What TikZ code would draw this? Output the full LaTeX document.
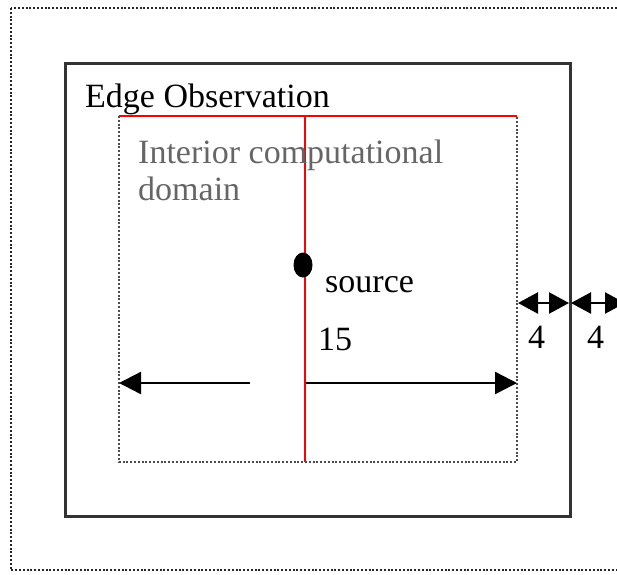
\documentclass[tikz,border=0pt]{standalone}
\usepackage{fontspec}
\setmainfont{Liberation Serif}
\usetikzlibrary{arrows.meta,shapes.geometric}
\begin{document}
\begin{tikzpicture}[x=1pt,y=-1pt,
  lbl/.style={anchor=base west, inner sep=0pt, font=\fontsize{34}{38}\selectfont},
  dotline/.style={line width=2.6pt, dash pattern=on 2pt off 1.8pt},
  frame/.style={line width=3pt, draw=black!80},
  redline/.style={line width=2.2pt, draw=red},
  dimarrow/.style={line width=2.4pt, -{Triangle[length=22pt,width=22pt]}},
  dimboth/.style={line width=2.4pt, {Triangle[length=20pt,width=21pt]}-{Triangle[length=20pt,width=21pt]}}
]
\useasboundingbox (0,0) rectangle (617,574);
\clip (0,0) rectangle (617,574);

% outer dotted frame (runs past the right edge)
\draw[dotline, draw=black!85] (11,8) rectangle (660,570);

% edge observation frame
\draw[frame] (65,63) rectangle (570,516);

% interior computational domain
\draw[dotline, draw=black!70] (119,116) rectangle (517,462);
\draw[redline] (119,116) -- (517,116);
\coordinate (vtop) at (305,116);
\coordinate (vbot) at (305,462);
\draw[redline] (vtop) -- (vbot);

% source point
\node[ellipse, fill=black, minimum width=19pt, minimum height=25pt, inner sep=0pt] (src) at (303,265) {};

% labels
\node[lbl] (title) at (85,107) {Edge Observation};
\node[lbl, text=black!60] (interior) at (138,163) {Interior computational};
\node[lbl, text=black!60] (interiorb) at (138,200) {domain};
\node[lbl] (srclbl) at (325,292) {source};
\node[lbl] (width) at (318,350) {15};
\node[lbl] (bandA) at (528,348) {4};
\node[lbl] (bandB) at (587,348) {4};

% half-width arrows
\coordinate (la0) at (250,383);
\coordinate (la1) at (119,383);
\coordinate (ra0) at (306,383);
\coordinate (ra1) at (517,383);
\draw[dimarrow] (la0) -- (la1);
\draw[dimarrow] (ra0) -- (ra1);

% band width arrows
\coordinate (b0) at (518,303);
\coordinate (b1) at (569,303);
\coordinate (b2) at (571,303);
\coordinate (b3) at (625,303);
\draw[dimboth] (b0) -- (b1);
\draw[dimboth] (b2) -- (b3);
\end{tikzpicture}
\end{document}
